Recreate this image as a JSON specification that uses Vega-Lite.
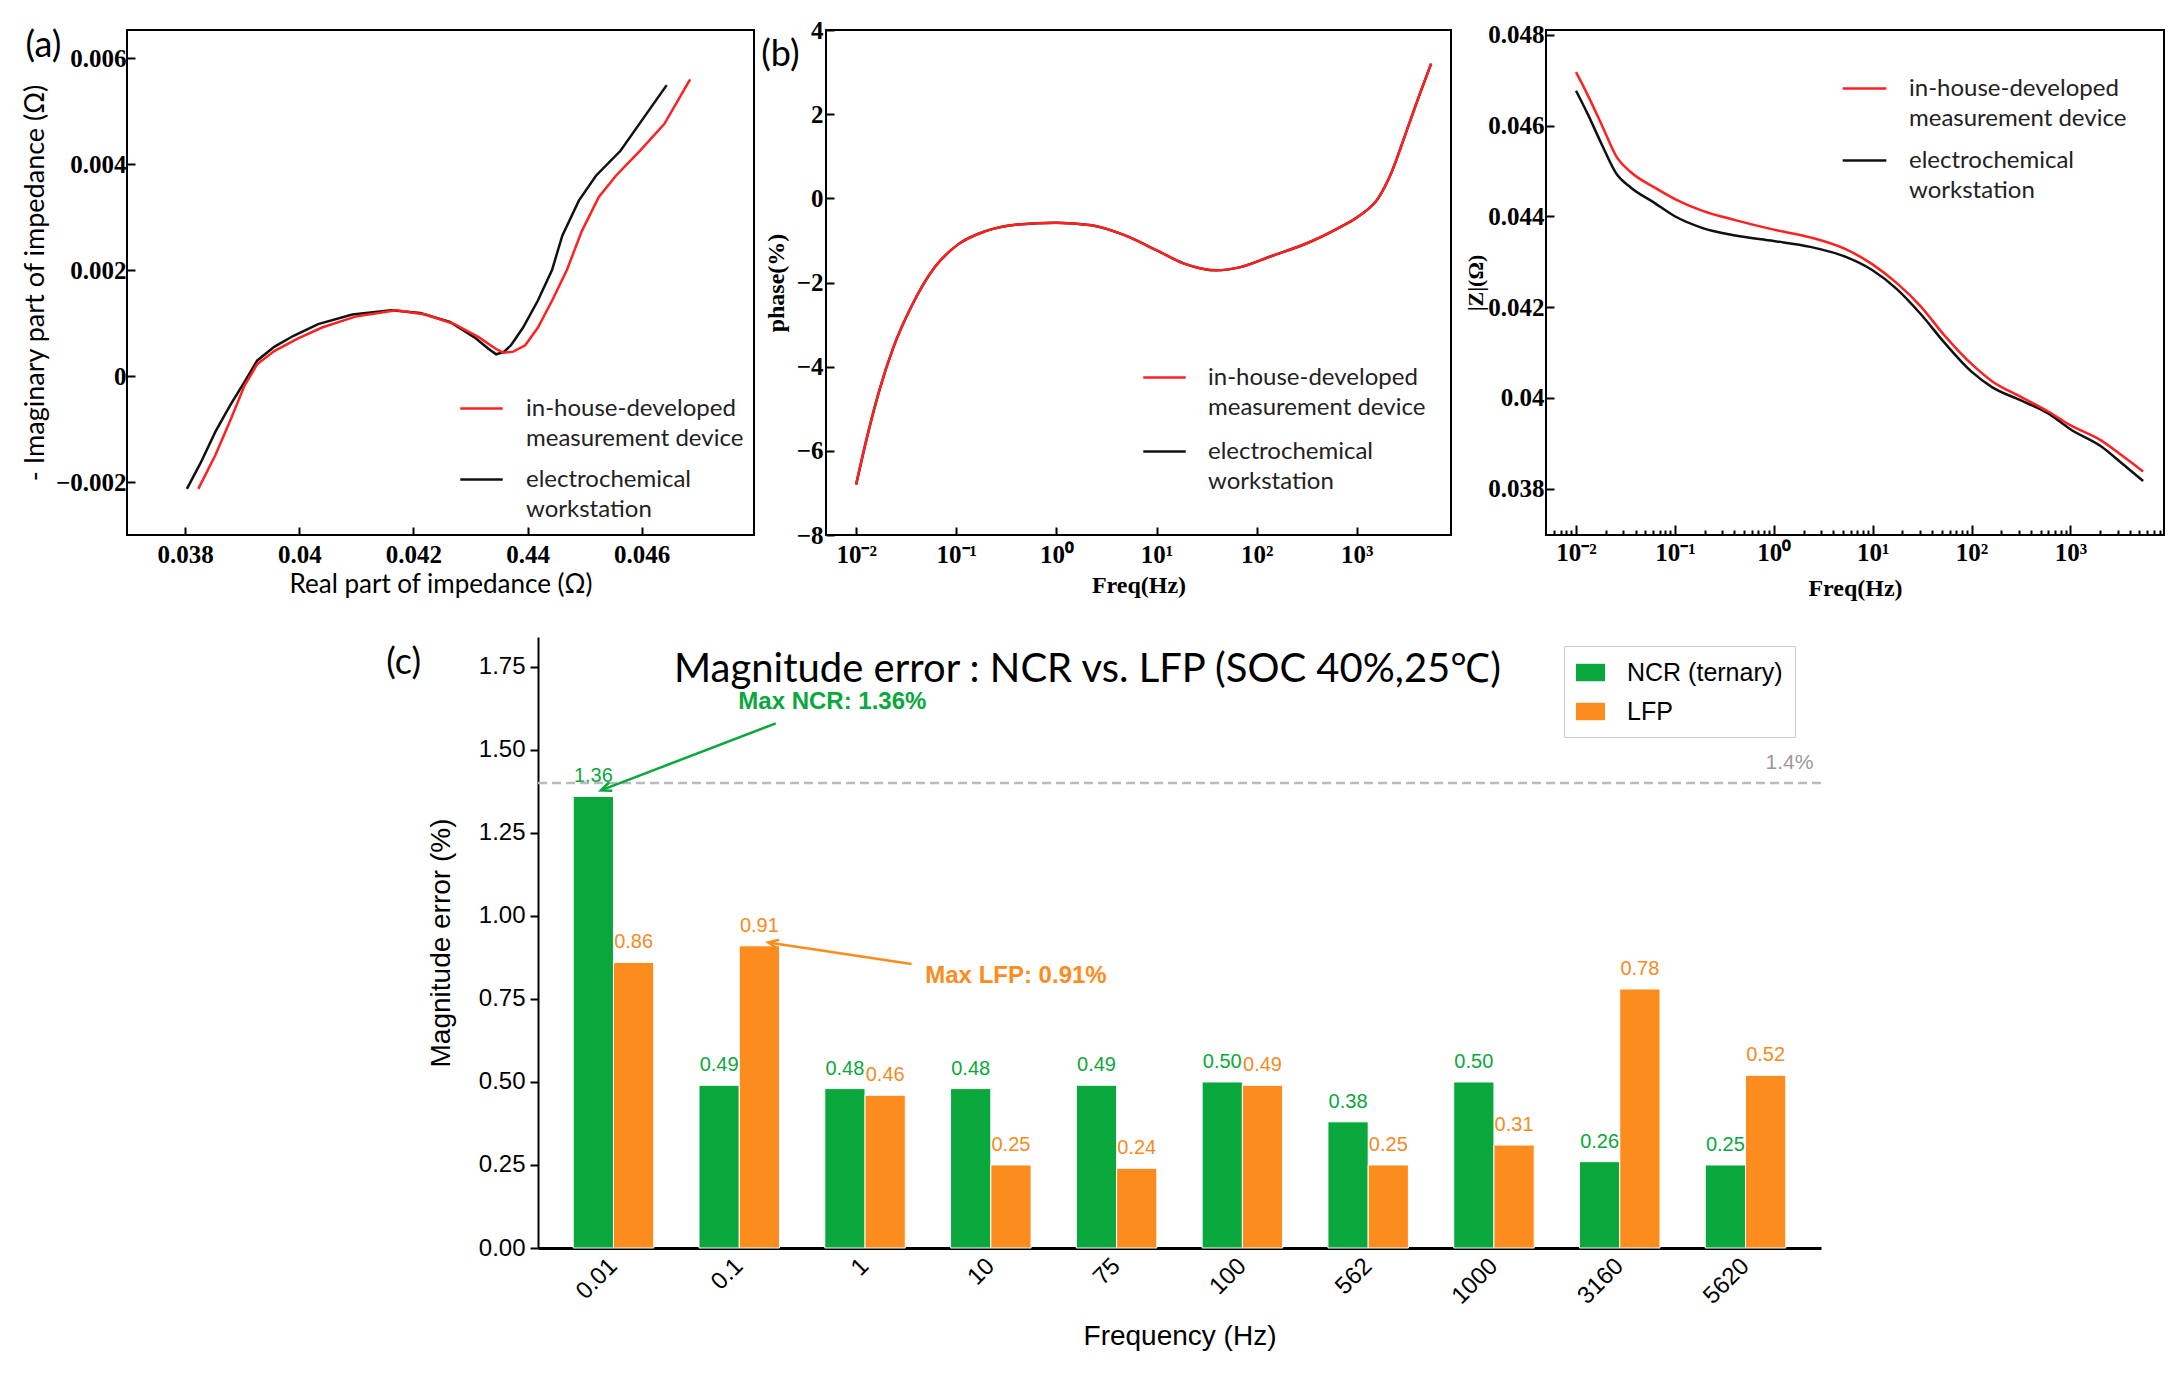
{
  "$schema": "https://vega.github.io/schema/vega-lite/v6.json",
  "background": "white",
  "padding": {"left": 20, "top": 17, "right": 5, "bottom": 5},
  "datasets": {
    "nyquist": [
      {"d": "ws", "re": 0.03803, "im": -0.00213},
      {"d": "ws", "re": 0.03827, "im": -0.00164},
      {"d": "ws", "re": 0.03853, "im": -0.00105},
      {"d": "ws", "re": 0.03879, "im": -0.00055},
      {"d": "ws", "re": 0.03904, "im": -0.00011},
      {"d": "ws", "re": 0.03926, "im": 0.00029},
      {"d": "ws", "re": 0.03956, "im": 0.00055},
      {"d": "ws", "re": 0.0399, "im": 0.00076},
      {"d": "ws", "re": 0.04033, "im": 0.00098},
      {"d": "ws", "re": 0.04093, "im": 0.00116},
      {"d": "ws", "re": 0.04161, "im": 0.00124},
      {"d": "ws", "re": 0.04212, "im": 0.00119},
      {"d": "ws", "re": 0.04264, "im": 0.00102},
      {"d": "ws", "re": 0.04307, "im": 0.00073},
      {"d": "ws", "re": 0.04332, "im": 0.00051},
      {"d": "ws", "re": 0.04345, "im": 0.00041},
      {"d": "ws", "re": 0.04358, "im": 0.00045},
      {"d": "ws", "re": 0.04371, "im": 0.00058},
      {"d": "ws", "re": 0.04392, "im": 0.00091},
      {"d": "ws", "re": 0.04418, "im": 0.00142},
      {"d": "ws", "re": 0.04443, "im": 0.002},
      {"d": "ws", "re": 0.04461, "im": 0.00265},
      {"d": "ws", "re": 0.0449, "im": 0.00331},
      {"d": "ws", "re": 0.0452, "im": 0.00378},
      {"d": "ws", "re": 0.04563, "im": 0.00425},
      {"d": "ws", "re": 0.04606, "im": 0.00491},
      {"d": "ws", "re": 0.04644, "im": 0.00549},
      {"d": "dev", "re": 0.03823, "im": -0.00213},
      {"d": "dev", "re": 0.03853, "im": -0.00149},
      {"d": "dev", "re": 0.03879, "im": -0.00084},
      {"d": "dev", "re": 0.03904, "im": -0.00018},
      {"d": "dev", "re": 0.03926, "im": 0.00022},
      {"d": "dev", "re": 0.03956, "im": 0.00047},
      {"d": "dev", "re": 0.03998, "im": 0.00071},
      {"d": "dev", "re": 0.04041, "im": 0.00092},
      {"d": "dev", "re": 0.04101, "im": 0.00113},
      {"d": "dev", "re": 0.0417, "im": 0.00124},
      {"d": "dev", "re": 0.04221, "im": 0.00116},
      {"d": "dev", "re": 0.04272, "im": 0.00098},
      {"d": "dev", "re": 0.04315, "im": 0.00073},
      {"d": "dev", "re": 0.04345, "im": 0.00051},
      {"d": "dev", "re": 0.04358, "im": 0.00044},
      {"d": "dev", "re": 0.04375, "im": 0.00046},
      {"d": "dev", "re": 0.04396, "im": 0.00058},
      {"d": "dev", "re": 0.04418, "im": 0.00091},
      {"d": "dev", "re": 0.04443, "im": 0.00142},
      {"d": "dev", "re": 0.04469, "im": 0.002},
      {"d": "dev", "re": 0.04495, "im": 0.00273},
      {"d": "dev", "re": 0.04525, "im": 0.00338},
      {"d": "dev", "re": 0.04555, "im": 0.00378},
      {"d": "dev", "re": 0.04597, "im": 0.00425},
      {"d": "dev", "re": 0.0464, "im": 0.00476},
      {"d": "dev", "re": 0.04685, "im": 0.0056}
    ],
    "phase": [
      {"d": "ws", "f": 0.01, "p": -6.8},
      {"d": "ws", "f": 0.01236, "p": -5.84},
      {"d": "ws", "f": 0.01702, "p": -4.57},
      {"d": "ws", "f": 0.02339, "p": -3.56},
      {"d": "ws", "f": 0.03581, "p": -2.56},
      {"d": "ws", "f": 0.06081, "p": -1.64},
      {"d": "ws", "f": 0.1035, "p": -1.1},
      {"d": "ws", "f": 0.1959, "p": -0.78},
      {"d": "ws", "f": 0.4111, "p": -0.62},
      {"d": "ws", "f": 1.0, "p": -0.58},
      {"d": "ws", "f": 2.239, "p": -0.64},
      {"d": "ws", "f": 4.71, "p": -0.87},
      {"d": "ws", "f": 9.95, "p": -1.23},
      {"d": "ws", "f": 18.84, "p": -1.55},
      {"d": "ws", "f": 39.6, "p": -1.71},
      {"d": "ws", "f": 67.3, "p": -1.64},
      {"d": "ws", "f": 141.3, "p": -1.37},
      {"d": "ws", "f": 331, "p": -1.05},
      {"d": "ws", "f": 626.6, "p": -0.73},
      {"d": "ws", "f": 1067, "p": -0.41},
      {"d": "ws", "f": 1629, "p": 0.0},
      {"d": "ws", "f": 2239, "p": 0.64},
      {"d": "ws", "f": 3083, "p": 1.55},
      {"d": "ws", "f": 4236, "p": 2.47},
      {"d": "ws", "f": 5521, "p": 3.2},
      {"d": "dev", "f": 0.01, "p": -6.8},
      {"d": "dev", "f": 0.01236, "p": -5.84},
      {"d": "dev", "f": 0.01702, "p": -4.57},
      {"d": "dev", "f": 0.02339, "p": -3.56},
      {"d": "dev", "f": 0.03581, "p": -2.56},
      {"d": "dev", "f": 0.06081, "p": -1.64},
      {"d": "dev", "f": 0.1035, "p": -1.1},
      {"d": "dev", "f": 0.1959, "p": -0.78},
      {"d": "dev", "f": 0.4111, "p": -0.62},
      {"d": "dev", "f": 1.0, "p": -0.58},
      {"d": "dev", "f": 2.239, "p": -0.64},
      {"d": "dev", "f": 4.71, "p": -0.87},
      {"d": "dev", "f": 9.95, "p": -1.23},
      {"d": "dev", "f": 18.84, "p": -1.55},
      {"d": "dev", "f": 39.6, "p": -1.71},
      {"d": "dev", "f": 67.3, "p": -1.64},
      {"d": "dev", "f": 141.3, "p": -1.37},
      {"d": "dev", "f": 331, "p": -1.05},
      {"d": "dev", "f": 626.6, "p": -0.73},
      {"d": "dev", "f": 1067, "p": -0.41},
      {"d": "dev", "f": 1629, "p": 0.0},
      {"d": "dev", "f": 2239, "p": 0.64},
      {"d": "dev", "f": 3083, "p": 1.55},
      {"d": "dev", "f": 4236, "p": 2.47},
      {"d": "dev", "f": 5521, "p": 3.2}
    ],
    "modulus": [
      {"d": "ws", "f": 0.01, "z": 0.04677},
      {"d": "ws", "f": 0.01318, "z": 0.04625},
      {"d": "ws", "f": 0.01837, "z": 0.04557},
      {"d": "ws", "f": 0.02564, "z": 0.04494},
      {"d": "ws", "f": 0.03573, "z": 0.04464},
      {"d": "ws", "f": 0.06209, "z": 0.0443},
      {"d": "ws", "f": 0.09886, "z": 0.04401},
      {"d": "ws", "f": 0.1879, "z": 0.04375},
      {"d": "ws", "f": 0.4083, "z": 0.04358},
      {"d": "ws", "f": 1, "z": 0.04346},
      {"d": "ws", "f": 2.344, "z": 0.04333},
      {"d": "ws", "f": 5.2, "z": 0.04312},
      {"d": "ws", "f": 9.886, "z": 0.04282},
      {"d": "ws", "f": 17.58, "z": 0.0424},
      {"d": "ws", "f": 30.62, "z": 0.04185},
      {"d": "ws", "f": 53.21, "z": 0.04122},
      {"d": "ws", "f": 100, "z": 0.04058},
      {"d": "ws", "f": 161.1, "z": 0.04024},
      {"d": "ws", "f": 312.6, "z": 0.03995},
      {"d": "ws", "f": 608.1, "z": 0.03965},
      {"d": "ws", "f": 1000, "z": 0.03931},
      {"d": "ws", "f": 2056, "z": 0.03893},
      {"d": "ws", "f": 3199, "z": 0.03859},
      {"d": "ws", "f": 5445, "z": 0.03817},
      {"d": "dev", "f": 0.01, "z": 0.04718},
      {"d": "dev", "f": 0.01318, "z": 0.04667},
      {"d": "dev", "f": 0.01837, "z": 0.046},
      {"d": "dev", "f": 0.02564, "z": 0.04532},
      {"d": "dev", "f": 0.03573, "z": 0.04498},
      {"d": "dev", "f": 0.06209, "z": 0.04464},
      {"d": "dev", "f": 0.09886, "z": 0.04439},
      {"d": "dev", "f": 0.1879, "z": 0.04413},
      {"d": "dev", "f": 0.4083, "z": 0.04392},
      {"d": "dev", "f": 1, "z": 0.04371},
      {"d": "dev", "f": 2.344, "z": 0.04354},
      {"d": "dev", "f": 5.2, "z": 0.04329},
      {"d": "dev", "f": 9.886, "z": 0.04295},
      {"d": "dev", "f": 17.58, "z": 0.04253},
      {"d": "dev", "f": 30.62, "z": 0.04202},
      {"d": "dev", "f": 53.21, "z": 0.04138},
      {"d": "dev", "f": 100, "z": 0.04075},
      {"d": "dev", "f": 161.1, "z": 0.04037},
      {"d": "dev", "f": 312.6, "z": 0.04003},
      {"d": "dev", "f": 608.1, "z": 0.03969},
      {"d": "dev", "f": 1000, "z": 0.0394},
      {"d": "dev", "f": 2056, "z": 0.03906},
      {"d": "dev", "f": 3199, "z": 0.03876},
      {"d": "dev", "f": 5445, "z": 0.03838}
    ],
    "bars": [
      {"freq": "0.01", "battery": "NCR (ternary)", "err": 1.36},
      {"freq": "0.01", "battery": "LFP", "err": 0.86},
      {"freq": "0.1", "battery": "NCR (ternary)", "err": 0.49},
      {"freq": "0.1", "battery": "LFP", "err": 0.91},
      {"freq": "1", "battery": "NCR (ternary)", "err": 0.48},
      {"freq": "1", "battery": "LFP", "err": 0.46},
      {"freq": "10", "battery": "NCR (ternary)", "err": 0.48},
      {"freq": "10", "battery": "LFP", "err": 0.25},
      {"freq": "75", "battery": "NCR (ternary)", "err": 0.49},
      {"freq": "75", "battery": "LFP", "err": 0.24},
      {"freq": "100", "battery": "NCR (ternary)", "err": 0.5},
      {"freq": "100", "battery": "LFP", "err": 0.49},
      {"freq": "562", "battery": "NCR (ternary)", "err": 0.38},
      {"freq": "562", "battery": "LFP", "err": 0.25},
      {"freq": "1000", "battery": "NCR (ternary)", "err": 0.5},
      {"freq": "1000", "battery": "LFP", "err": 0.31},
      {"freq": "3160", "battery": "NCR (ternary)", "err": 0.26},
      {"freq": "3160", "battery": "LFP", "err": 0.78},
      {"freq": "5620", "battery": "NCR (ternary)", "err": 0.25},
      {"freq": "5620", "battery": "LFP", "err": 0.52}
    ],
    "threshold": [{"t": 1.4}],
    "arrows": [
      {"series": "NCR", "x0": 1.29, "y0": 1.58, "x1": -0.1, "y1": 1.378},
      {"series": "LFP", "x0": 2.37, "y0": 0.855, "x1": 1.23, "y1": 0.92}
    ],
    "notes": [
      {"series": "NCR", "label": "Max NCR: 1.36%", "x": 1.74, "y": 1.645},
      {"series": "LFP", "label": "Max LFP: 0.91%", "x": 3.2, "y": 0.818}
    ],
    "thresholdLabel": [{"label": "1.4%", "x": 9.54, "y": 1.4}]
  },
  "vconcat": [
    {
      "hconcat": [
        {
          "width": 627,
          "height": 505,
          "view": {"stroke": "black", "strokeWidth": 2},
          "title": {"text": "(a)", "anchor": "start", "frame": "bounds", "offset": 0, "dx": 4, "dy": 35, "font": "Lato", "fontSize": 36, "fontWeight": "normal", "color": "black"},
          "data": {"name": "nyquist"},
          "mark": {"type": "line", "strokeWidth": 2.5},
          "encoding": {
            "x": {
              "field": "re", "type": "quantitative",
              "scale": {"domain": [0.03698, 0.04797], "nice": false, "zero": false},
              "title": "Real part of impedance (Ω)",
              "axis": {
                "values": [0.038, 0.04, 0.042, 0.044, 0.046],
                "labelExpr": "datum.value > 0.0439 && datum.value < 0.0441 ? '0.44' : format(datum.value, '.3~f')",
                "domain": false, "grid": false, "tickSize": -8, "tickWidth": 2, "tickColor": "black",
                "labelFont": "Liberation Serif", "labelFontWeight": "bold", "labelFontSize": 25, "labelColor": "black",
                "labelPadding": 15, "labelFlush": false, "labelOverlap": false,
                "titleFont": "Lato", "titleFontSize": 26, "titleFontWeight": "normal", "titleColor": "black", "titlePadding": 4
              }
            },
            "y": {
              "field": "im", "type": "quantitative",
              "scale": {"domain": [-0.003, 0.00653], "nice": false, "zero": false},
              "title": "- Imaginary part of impedance (Ω)",
              "axis": {
                "values": [-0.002, 0, 0.002, 0.004, 0.006],
                "labelExpr": "format(datum.value, '.3~f')",
                "domain": false, "grid": false, "tickSize": -8, "tickWidth": 2, "tickColor": "black",
                "labelFont": "Liberation Serif", "labelFontWeight": "bold", "labelFontSize": 25, "labelColor": "black",
                "labelPadding": 9, "labelFlush": false, "labelOverlap": false,
                "titleFont": "Lato", "titleFontSize": 27, "titleFontWeight": "normal", "titleColor": "black", "titlePadding": 6
              }
            },
            "color": {
              "field": "d", "type": "nominal",
              "scale": {"domain": ["dev", "ws"], "range": ["#ff2020", "#111111"]},
              "legend": {
                "title": null, "orient": "none", "legendX": 332, "legendY": 356, "padding": 0,
                "symbolType": "stroke", "symbolSize": 1800, "symbolStrokeWidth": 2.5,
                "labelFont": "Lato", "labelFontSize": 24, "labelColor": "#222", "labelOffset": 22, "labelLimit": 400,
                "rowPadding": 6,
                "labelExpr": "datum.value == 'dev' ? ['in-house-developed', 'measurement device'] : ['electrochemical', 'workstation']"
              }
            }
          }
        },
        {
          "hconcat": [
            {
              "width": 625,
              "height": 505,
              "view": {"stroke": "black", "strokeWidth": 2},
              "title": {"text": "(b)", "anchor": "start", "frame": "bounds", "offset": 0, "dx": -3, "dy": 56, "font": "Lato", "fontSize": 36, "fontWeight": "normal", "color": "black"},
              "data": {"name": "phase"},
              "mark": {"type": "line", "strokeWidth": 2.5, "interpolate": "monotone"},
              "encoding": {
                "x": {
                  "field": "f", "type": "quantitative",
                  "scale": {"type": "log", "domain": [0.005, 8710], "nice": false},
                  "title": "Freq(Hz)",
                  "axis": {
                    "values": [0.01, 0.1, 1, 10, 100, 1000],
                    "labelExpr": "datum.value == 0.01 ? '10⁻²' : datum.value == 0.1 ? '10⁻¹' : datum.value == 1 ? '10⁰' : datum.value == 10 ? '10¹' : datum.value == 100 ? '10²' : datum.value == 1000 ? '10³' : ''",
                    "domain": false, "grid": false, "tickSize": -8, "tickWidth": 2, "tickColor": "black",
                    "labelFont": "Liberation Serif", "labelFontWeight": "bold", "labelFontSize": 25, "labelColor": "black",
                    "labelPadding": 15, "labelFlush": false, "labelOverlap": false,
                    "titleFont": "Liberation Serif", "titleFontSize": 24, "titleFontWeight": "bold", "titleColor": "black", "titlePadding": 6
                  }
                },
                "y": {
                  "field": "p", "type": "quantitative",
                  "scale": {"domain": [-8, 4], "nice": false, "zero": false},
                  "title": "phase(%)",
                  "axis": {
                    "values": [-8, -6, -4, -2, 0, 2, 4],
                    "labelExpr": "format(datum.value, 'd')",
                    "domain": false, "grid": false, "tickSize": -8, "tickWidth": 2, "tickColor": "black",
                    "labelFont": "Liberation Serif", "labelFontWeight": "bold", "labelFontSize": 25, "labelColor": "black",
                    "labelPadding": 11, "labelFlush": false, "labelOverlap": false,
                    "titleFont": "Liberation Serif", "titleFontSize": 24, "titleFontWeight": "bold", "titleColor": "black", "titlePadding": 8
                  }
                },
                "color": {
                  "field": "d", "type": "nominal",
                  "scale": {"domain": ["dev", "ws"], "range": ["#ff2020", "#111111"]},
                  "legend": {
                    "title": null, "orient": "none", "legendX": 316, "legendY": 325, "padding": 0,
                    "symbolType": "stroke", "symbolSize": 1800, "symbolStrokeWidth": 2.5,
                    "labelFont": "Lato", "labelFontSize": 24, "labelColor": "#222", "labelOffset": 21, "labelLimit": 400,
                    "rowPadding": 9,
                    "labelExpr": "datum.value == 'dev' ? ['in-house-developed', 'measurement device'] : ['electrochemical', 'workstation']"
                  }
                }
              }
            },
            {
              "width": 618,
              "height": 505,
              "view": {"stroke": "black", "strokeWidth": 2},
              "data": {"name": "modulus"},
              "mark": {"type": "line", "strokeWidth": 2.5, "interpolate": "monotone"},
              "encoding": {
                "x": {
                  "field": "f", "type": "quantitative",
                  "scale": {"type": "log", "domain": [0.00497, 8850], "nice": false},
                  "title": "Freq(Hz)",
                  "axis": {
                    "values": [0.006, 0.007, 0.008, 0.009, 0.01, 0.02, 0.03, 0.04, 0.05, 0.06, 0.07, 0.08, 0.09, 0.1, 0.2, 0.3, 0.4, 0.5, 0.6, 0.7, 0.8, 0.9, 1, 2, 3, 4, 5, 6, 7, 8, 9, 10, 20, 30, 40, 50, 60, 70, 80, 90, 100, 200, 300, 400, 500, 600, 700, 800, 900, 1000, 2000, 3000, 4000, 5000, 6000, 7000, 8000],
                    "labelExpr": "datum.value == 0.01 ? '10⁻²' : datum.value == 0.1 ? '10⁻¹' : datum.value == 1 ? '10⁰' : datum.value == 10 ? '10¹' : datum.value == 100 ? '10²' : datum.value == 1000 ? '10³' : ''",
                    "domain": false, "grid": false,
                    "tickSize": {"condition": {"test": "datum.value == 0.01 || datum.value == 0.1 || datum.value == 1 || datum.value == 10 || datum.value == 100 || datum.value == 1000", "value": -10}, "value": -5},
                    "tickWidth": 2, "tickColor": "black",
                    "labelFont": "Liberation Serif", "labelFontWeight": "bold", "labelFontSize": 25, "labelColor": "black",
                    "labelPadding": 15, "labelFlush": false, "labelOverlap": false,
                    "titleFont": "Liberation Serif", "titleFontSize": 24, "titleFontWeight": "bold", "titleColor": "black", "titlePadding": 6
                  }
                },
                "y": {
                  "field": "z", "type": "quantitative",
                  "scale": {"domain": [0.03698, 0.04811], "nice": false, "zero": false},
                  "title": "|Z|(Ω)",
                  "axis": {
                    "values": [0.038, 0.04, 0.042, 0.044, 0.046, 0.048],
                    "labelExpr": "format(datum.value, '.3~f')",
                    "domain": false, "grid": false, "tickSize": -8, "tickWidth": 2, "tickColor": "black",
                    "labelFont": "Liberation Serif", "labelFontWeight": "bold", "labelFontSize": 25, "labelColor": "black",
                    "labelPadding": 10, "labelFlush": false, "labelOverlap": false,
                    "titleFont": "Liberation Serif", "titleFontSize": 22, "titleFontWeight": "bold", "titleColor": "black", "titlePadding": 0
                  }
                },
                "color": {
                  "field": "d", "type": "nominal",
                  "scale": {"domain": ["dev", "ws"], "range": ["#ff2020", "#111111"]},
                  "legend": {
                    "title": null, "orient": "none", "legendX": 295, "legendY": 35, "padding": 0,
                    "symbolType": "stroke", "symbolSize": 1900, "symbolStrokeWidth": 2.5,
                    "labelFont": "Lato", "labelFontSize": 24, "labelColor": "#222", "labelOffset": 21, "labelLimit": 400,
                    "rowPadding": 6,
                    "labelExpr": "datum.value == 'dev' ? ['in-house-developed', 'measurement device'] : ['electrochemical', 'workstation']"
                  }
                }
              }
            }
          ],
          "spacing": 95,
          "bounds": "flush",
          "resolve": {"scale": {"color": "independent"}, "legend": {"color": "independent"}}
        }
      ],
      "spacing": 72,
      "bounds": "flush",
      "resolve": {"scale": {"color": "independent"}, "legend": {"color": "independent"}}
    },
    {
      "hconcat": [
        {
          "width": 294,
          "height": 60,
          "view": {"stroke": null},
          "title": {"text": "(c)", "anchor": "end", "offset": 0, "dy": 45, "font": "Lato", "fontSize": 36, "fontWeight": "normal", "color": "black"},
          "data": {"name": "threshold"},
          "mark": {"type": "text", "text": " "},
          "encoding": {}
        },
        {
          "width": 1283,
          "height": 611,
          "view": {"stroke": null},
          "title": {"text": "Magnitude error : NCR vs. LFP (SOC 40%,25℃)", "anchor": "start", "frame": "group", "offset": 0, "dx": 136, "dy": 53, "font": "Lato", "fontSize": 40, "fontWeight": "normal", "color": "black"},
          "layer": [
            {
              "data": {"name": "bars"},
              "layer": [
                {
                  "mark": {"type": "bar", "stroke": "white", "strokeWidth": 1},
                  "encoding": {
                    "x": {
                      "field": "freq", "type": "nominal", "sort": null,
                      "scale": {"paddingInner": 0.36, "paddingOuter": 0.28},
                      "title": "Frequency (Hz)",
                      "axis": {
                        "labelAngle": -45, "labelAlign": "right", "labelBaseline": "middle",
                        "labelFont": "Liberation Sans", "labelFontSize": 24, "labelColor": "black", "labelPadding": 23,
                        "domainColor": "black", "domainWidth": 3, "tickColor": "black", "tickSize": -9, "tickWidth": 2,
                        "titleFont": "Liberation Sans", "titleFontSize": 28, "titleFontWeight": "normal", "titleColor": "black", "titlePadding": 14
                      }
                    },
                    "xOffset": {"field": "battery", "type": "nominal", "sort": ["NCR (ternary)", "LFP"]},
                    "y": {
                      "field": "err", "type": "quantitative",
                      "scale": {"domain": [0, 1.84], "nice": false},
                      "title": "Magnitude error (%)",
                      "axis": {
                        "values": [0, 0.25, 0.5, 0.75, 1, 1.25, 1.5, 1.75], "format": ".2f", "grid": false,
                        "labelFont": "Liberation Sans", "labelFontSize": 24, "labelColor": "black", "labelPadding": 5,
                        "domainColor": "black", "domainWidth": 2, "tickColor": "black", "tickSize": 8, "tickWidth": 2,
                        "titleFont": "Liberation Sans", "titleFontSize": 28, "titleFontWeight": "normal", "titleColor": "black", "titlePadding": 23
                      }
                    },
                    "color": {
                      "field": "battery", "type": "nominal",
                      "scale": {"domain": ["NCR (ternary)", "LFP"], "range": ["#0aa83c", "#fd8c1e"]},
                      "legend": {
                        "title": null, "orient": "none", "legendX": 1026, "legendY": 9, "padding": 12,
                        "strokeColor": "#cccccc",
                        "symbolType": "M-1,-0.6H1V0.6H-1Z", "symbolSize": 841, "symbolStrokeWidth": 0,
                        "labelFont": "Liberation Sans", "labelFontSize": 25, "labelColor": "black", "labelOffset": 22,
                        "rowPadding": 11
                      }
                    }
                  }
                },
                {
                  "mark": {"type": "text", "dy": -14, "baseline": "alphabetic", "font": "Liberation Sans", "fontSize": 20},
                  "encoding": {
                    "x": {"field": "freq", "type": "nominal", "sort": null, "scale": {"paddingInner": 0.36, "paddingOuter": 0.28}, "title": "Frequency (Hz)"},
                    "xOffset": {"field": "battery", "type": "nominal", "sort": ["NCR (ternary)", "LFP"]},
                    "y": {"field": "err", "type": "quantitative", "title": "Magnitude error (%)"},
                    "text": {"field": "err", "type": "quantitative", "format": ".2f"},
                    "color": {"condition": {"test": "datum.battery == 'LFP'", "value": "#f58b1f"}, "value": "#0aa83c"}
                  }
                }
              ]
            },
            {
              "data": {"name": "threshold"},
              "mark": {"type": "rule", "color": "#bbbbbb", "strokeWidth": 2.5, "strokeDash": [9, 5]},
              "encoding": {"y": {"field": "t", "type": "quantitative", "title": "Magnitude error (%)"}}
            },
            {
              "layer": [
                {
                  "data": {"name": "arrows"},
                  "mark": {"type": "rule", "strokeWidth": 2.5},
                  "encoding": {
                    "x": {"field": "x0", "type": "quantitative", "scale": {"domain": [-0.6, 9.6], "nice": false, "zero": false}, "axis": null},
                    "x2": {"field": "x1"},
                    "y": {"field": "y0", "type": "quantitative", "title": "Magnitude error (%)"},
                    "y2": {"field": "y1"},
                    "color": {"condition": {"test": "datum.series == 'LFP'", "value": "#fd8c1e"}, "value": "#0aa83c"}
                  }
                },
                {
                  "data": {"name": "arrows"},
                  "mark": {"type": "point", "shape": "M-0.55,1.3L0,0L0.55,1.3", "filled": false, "size": 260, "strokeWidth": 2.5, "opacity": 1},
                  "encoding": {
                    "x": {"field": "x1", "type": "quantitative", "axis": null},
                    "y": {"field": "y1", "type": "quantitative", "title": "Magnitude error (%)"},
                    "angle": {"condition": {"test": "datum.series == 'LFP'", "value": 278.7}, "value": 248.8},
                    "color": {"condition": {"test": "datum.series == 'LFP'", "value": "#fd8c1e"}, "value": "#0aa83c"}
                  }
                },
                {
                  "data": {"name": "notes"},
                  "mark": {"type": "text", "font": "Liberation Sans", "fontSize": 24, "fontWeight": "bold", "align": "center", "baseline": "middle"},
                  "encoding": {
                    "x": {"field": "x", "type": "quantitative", "axis": null},
                    "y": {"field": "y", "type": "quantitative", "title": "Magnitude error (%)"},
                    "text": {"field": "label", "type": "nominal"},
                    "color": {"condition": {"test": "datum.series == 'LFP'", "value": "#fd8c1e"}, "value": "#0aa83c"}
                  }
                },
                {
                  "data": {"name": "thresholdLabel"},
                  "mark": {"type": "text", "font": "Liberation Sans", "fontSize": 21, "align": "right", "baseline": "alphabetic", "dy": -14, "color": "#999999"},
                  "encoding": {
                    "x": {"field": "x", "type": "quantitative", "axis": null},
                    "y": {"field": "y", "type": "quantitative", "title": "Magnitude error (%)"},
                    "text": {"field": "label", "type": "nominal"}
                  }
                }
              ]
            }
          ],
          "resolve": {"scale": {"x": "independent"}}
        }
      ],
      "spacing": 117,
      "bounds": "flush",
      "resolve": {"scale": {"color": "independent"}, "legend": {"color": "independent"}}
    }
  ],
  "spacing": 36,
  "resolve": {"scale": {"color": "independent"}, "legend": {"color": "independent"}},
  "config": {
    "font": "Liberation Sans",
    "view": {"stroke": null},
    "style": {"guide-label": {"lineHeight": 30}}
  }
}
